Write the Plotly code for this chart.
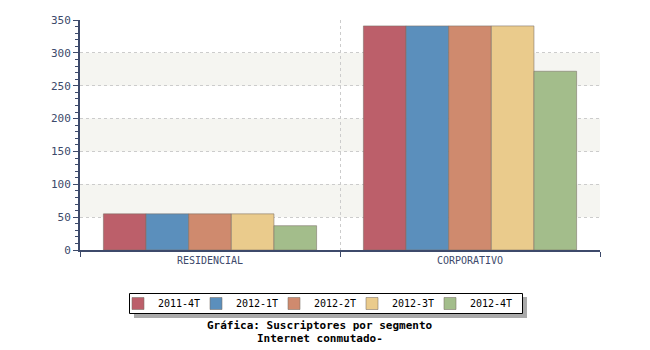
import plotly.graph_objects as go

categories = ["RESIDENCIAL", "CORPORATIVO"]
series_names = ["2011-4T", "2012-1T", "2012-2T", "2012-3T", "2012-4T"]
series_values = [
    [55, 341],
    [55, 341],
    [55, 341],
    [55, 341],
    [37, 272],
]
colors = ["#bc5f6a", "#5b8fbc", "#cf8a6e", "#eacb8c", "#a3bd8b"]
band_ranges = [(50, 100), (150, 200), (250, 300)]
title_lines = ["Gráfica: Suscriptores por segmento", "Internet conmutado-"]

axis_color = "#3d4a6b"
font_mono = "DejaVu Sans Mono"

def px_x(p):
    return (p - 80) / 520

def px_y(p):
    return (250 - p) / 230

fig = go.Figure()
legend_layouts = {}
for i, (name, vals, col) in enumerate(zip(series_names, series_values, colors)):
    lg = "legend" if i == 0 else f"legend{i + 1}"
    fig.add_trace(go.Bar(
        x=categories, y=vals, name=name, legend=lg,
        marker=dict(color=col, line=dict(color="rgba(120,110,100,0.55)", width=1)),
    ))
    legend_layouts[lg] = dict(
        orientation="h", x=px_x(158 - 40 + 78 * i), xanchor="left",
        y=px_y(303.5), yanchor="middle",
        bgcolor="rgba(0,0,0,0)", borderwidth=0,
        font=dict(family=font_mono, size=10, color="black"),
        itemclick=False, itemdoubleclick=False,
    )

shapes = []
for y0, y1 in band_ranges:
    shapes.append(dict(type="rect", xref="paper", yref="y", x0=0, x1=1, y0=y0, y1=y1,
                       fillcolor="#f5f5f1", line=dict(width=0), layer="below"))
# legend shadow and box
shapes.append(dict(type="rect", xref="paper", yref="paper",
                   x0=px_x(134), x1=px_x(527), y0=px_y(318), y1=px_y(297),
                   fillcolor="#aaaaaa", line=dict(width=0), layer="above"))
shapes.append(dict(type="rect", xref="paper", yref="paper",
                   x0=px_x(129.5), x1=px_x(522.5), y0=px_y(313.5), y1=px_y(293.5),
                   fillcolor="white", line=dict(width=1, color="black"), layer="above"))

fig.update_layout(
    width=650, height=350,
    margin=dict(l=80, r=50, t=20, b=100),
    paper_bgcolor="white", plot_bgcolor="white",
    barmode="group", bargap=0.18, bargroupgap=0,
    font=dict(family=font_mono, size=11, color=axis_color),
    shapes=shapes,
    showlegend=True,
    annotations=[
        dict(text="<b>" + title_lines[0] + "</b>", xref="paper", yref="paper",
             x=px_x(320), y=px_y(325), xanchor="center", yanchor="middle",
             showarrow=False, font=dict(family=font_mono, size=11, color="black")),
        dict(text="<b>" + title_lines[1] + "</b>", xref="paper", yref="paper",
             x=px_x(320), y=px_y(338), xanchor="center", yanchor="middle",
             showarrow=False, font=dict(family=font_mono, size=11, color="black")),
    ],
    **legend_layouts,
)

fig.update_yaxes(
    range=[0, 350], dtick=50, tick0=0,
    showgrid=True, gridcolor="#cccccc", griddash="3px,3px", gridwidth=1,
    showline=True, linecolor=axis_color, linewidth=2,
    ticks="outside", ticklen=5, tickcolor=axis_color, tickwidth=1,
    minor=dict(dtick=10, ticks="outside", ticklen=3, tickcolor=axis_color, showgrid=False),
    zeroline=False, tickfont=dict(family=font_mono, size=11, color=axis_color),
)
fig.update_xaxes(
    tickson="boundaries", showgrid=True, gridcolor="#cccccc", griddash="3px,3px", gridwidth=1,
    showline=True, linecolor=axis_color, linewidth=2,
    ticks="outside", ticklen=5, tickcolor=axis_color,
    tickfont=dict(family=font_mono, size=10, color=axis_color),
)

fig.write_html("out.html")
